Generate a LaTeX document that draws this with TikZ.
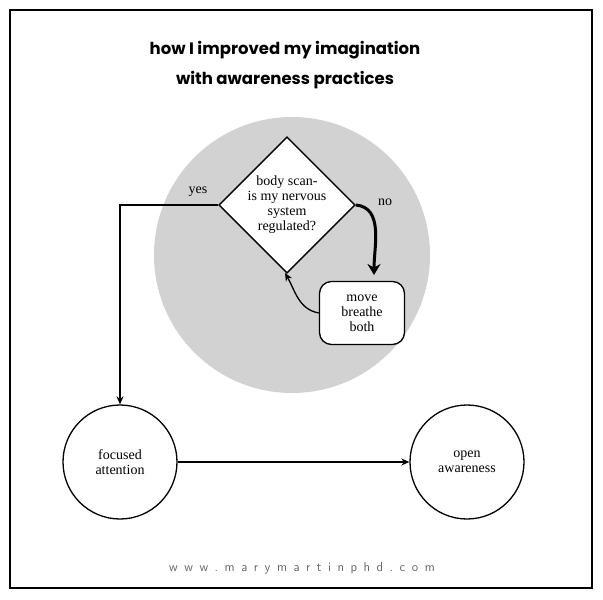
\documentclass[tikz,border=0pt]{standalone}
\usepackage{fontspec}
\setmainfont{Liberation Serif}
\newfontfamily\titlefont{Poppins}
\usetikzlibrary{positioning,arrows.meta,shapes.geometric}
\begin{document}
\begin{tikzpicture}[x=1pt,y=1pt,>={Stealth[width=7pt,length=8pt]},
  stepnode/.style={draw,line width=1.3pt,align=center,font=\fontsize{14}{15}\selectfont},
  decide/.style={stepnode,diamond,minimum width=135pt,minimum height=130pt,inner sep=0pt},
  actbox/.style={stepnode,rounded corners=12pt,minimum width=85pt,minimum height=63pt},
  mode/.style={stepnode,circle,minimum size=114pt,inner sep=0pt}]
		\useasboundingbox (0,0) rectangle (603,-600);
		\draw[line width=1.5pt] (10,-10) rectangle (592,-588);
		\fill[gray!35] (292,-255) circle (138);
		\node[font=\titlefont\bfseries\fontsize{16.5}{18}\selectfont] (t1) at (285,-50) {how I improved my imagination};
		\node[font=\titlefont\bfseries\fontsize{16.5}{18}\selectfont] (t2) at (285,-80) {with awareness practices};
		\node[decide,fill=white] (scan) at (287,-205) {body scan-\\is my nervous\\system\\regulated?};
		\node[actbox,fill=white] (move) at (362,-313) {move\\breathe\\both};
		\node[mode] (focus) at (120,-462) {focused\\attention};
		\node[mode] (open) at (467,-462) {open\\awareness};
		\coordinate (corner) at (120,-205);
		\draw[->,line width=1.5pt] (scan.west) -- (corner) -- (focus.north);
		\node[font=\fontsize{14}{15}\selectfont] (yes) at (198,-192) {yes};
		\node[font=\fontsize{14}{15}\selectfont] (no) at (385,-202) {no};
		\draw[->,line width=3pt,>={Stealth[width=13pt,length=11pt]}] (scan.east) to[out=-5,in=90] (374,-275);
		\draw[->,line width=1.3pt] (move.west) to[out=170,in=-60] (285,-273);
		\draw[->,line width=1.5pt] (focus.east) -- (open.west);
		\node[gray!80!black,font=\sffamily\fontsize{13}{14}\selectfont] (web) at (302,-568) {w\,\,\,w\,\,\,w\,\,\,.\,\,\,m\,\,\,a\,\,\,r\,\,\,y\,\,\,m\,\,\,a\,\,\,r\,\,\,t\,\,\,i\,\,\,n\,\,\,p\,\,\,h\,\,\,d\,\,\,.\,\,\,c\,\,\,o\,\,\,m};
\end{tikzpicture}
\end{document}
